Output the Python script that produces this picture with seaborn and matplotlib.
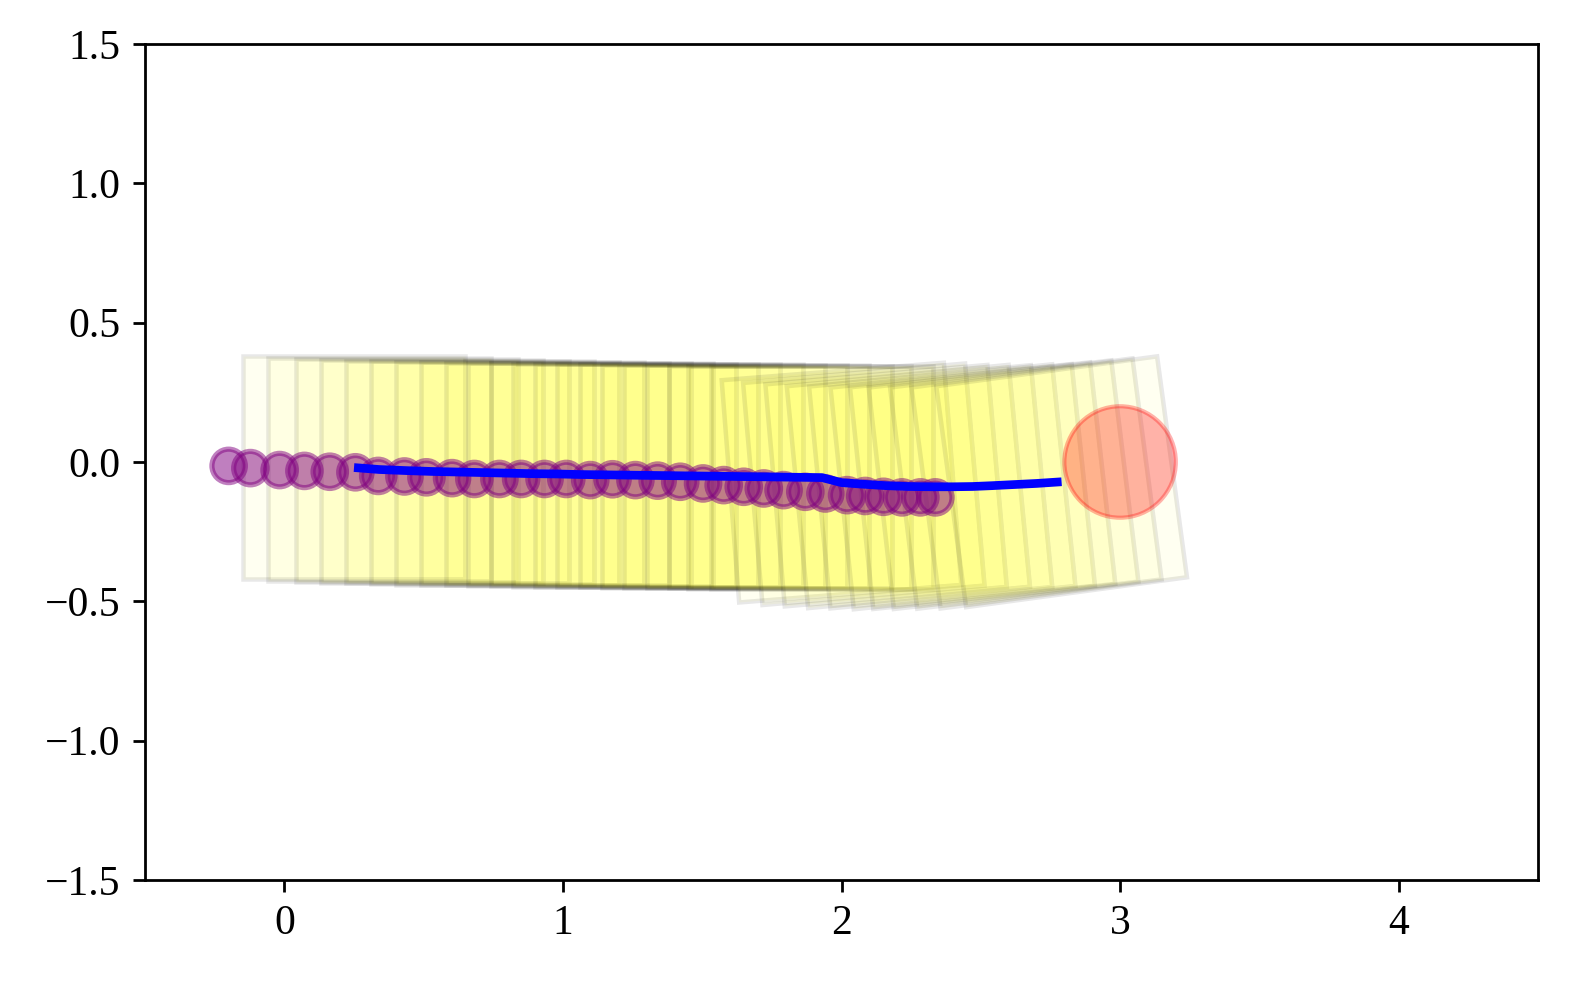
import numpy as np
import pandas as pd
import matplotlib
matplotlib.use('Agg')
import matplotlib.pyplot as plt
from matplotlib.patches import Rectangle, Circle
import matplotlib.transforms as mtransforms
import seaborn as sns

# past positions (purple discs)
hist_x = [-0.200, -0.122, -0.017, 0.072, 0.163, 0.255, 0.337, 0.431, 0.510, 0.602,
          0.682, 0.772, 0.850, 0.934, 1.012, 1.098, 1.178, 1.260, 1.340, 1.421,
          1.503, 1.577, 1.649, 1.721, 1.792, 1.870, 1.942, 2.020, 2.085, 2.151,
          2.217, 2.283, 2.337]
hist_y = [-0.014, -0.022, -0.029, -0.032, -0.035, -0.037, -0.050, -0.052, -0.055, -0.058,
          -0.061, -0.061, -0.061, -0.061, -0.061, -0.065, -0.062, -0.065, -0.067, -0.071,
          -0.077, -0.083, -0.089, -0.095, -0.101, -0.107, -0.113, -0.119, -0.122, -0.125,
          -0.127, -0.127, -0.127]

# planned trajectory (blue line + footprints)
traj_x = [0.25, 0.34, 0.44, 0.53, 0.62, 0.71, 0.80, 0.89, 0.98, 1.06, 1.14, 1.22,
          1.30, 1.38, 1.46, 1.54, 1.62, 1.70, 1.78, 1.85, 1.93,
          2.00, 2.08, 2.16, 2.24, 2.32, 2.40, 2.47, 2.54, 2.62, 2.70, 2.79]
traj_y = [-0.020, -0.027, -0.031, -0.034, -0.036, -0.038, -0.040, -0.042, -0.043, -0.045,
          -0.046, -0.047, -0.048, -0.049, -0.050, -0.051, -0.052, -0.053, -0.054, -0.055,
          -0.056,
          -0.074, -0.080, -0.085, -0.088, -0.089, -0.089, -0.088, -0.085, -0.081, -0.077,
          -0.071]
traj_heading = [0.0] * 21 + [4.5, 5.0, 5.0, 5.5, 5.5, 6.0, 6.0, 6.5, 7.0, 7.5, 7.7]

# goal
goal_x, goal_y, goal_r = 3.0, 0.0, 0.2

footprint = 0.8
disc_r = 0.06

sns.set_theme(style="ticks", rc={"axes.edgecolor": "black", "xtick.color": "black",
                                 "ytick.color": "black", "axes.linewidth": 0.8})
plt.rcParams['font.family'] = ['Liberation Serif', 'DejaVu Serif']
plt.rcParams['axes.unicode_minus'] = True

fig = plt.figure(figsize=(6.28, 3.928), dpi=250)
ax = fig.add_axes([0.0924, 0.1039, 0.8872, 0.8513])

# footprints along the plan
for x, y, th in zip(traj_x, traj_y, traj_heading):
    rect = Rectangle((x - footprint / 2, y - footprint / 2), footprint, footprint,
                     facecolor=(1, 1, 0, 0.055), edgecolor=(0, 0, 0, 0.09), linewidth=1.3)
    rot = mtransforms.Affine2D().rotate_deg_around(x, y, th)
    rect.set_transform(rot + ax.transData)
    ax.add_patch(rect)

# history discs
df_hist = pd.DataFrame({'x': hist_x, 'y': hist_y})
for x, y in zip(df_hist.x, df_hist.y):
    ax.add_patch(Circle((x, y), disc_r, facecolor='purple', edgecolor='purple',
                        linewidth=1.5, alpha=0.5))

# plan line
df_traj = pd.DataFrame({'x': traj_x, 'y': traj_y})
sns.lineplot(data=df_traj, x='x', y='y', sort=False, color='blue', linewidth=2.5,
             solid_capstyle='butt', ax=ax)

ax.add_patch(Circle((goal_x, goal_y), goal_r, facecolor='red', edgecolor='red',
                    linewidth=1.2, alpha=0.3, zorder=3))

ax.set_xlim(-0.5, 4.5)
ax.set_ylim(-1.5, 1.5)
ax.set_xticks([0, 1, 2, 3, 4])
ax.set_yticks([-1.5, -1.0, -0.5, 0.0, 0.5, 1.0, 1.5])
ax.set_xlabel('')
ax.set_ylabel('')
ax.tick_params(labelsize=12, length=3.5, width=0.8)
for s in ax.spines.values():
    s.set_visible(True)
    s.set_color('black')

fig.savefig('out.png', dpi=250)
